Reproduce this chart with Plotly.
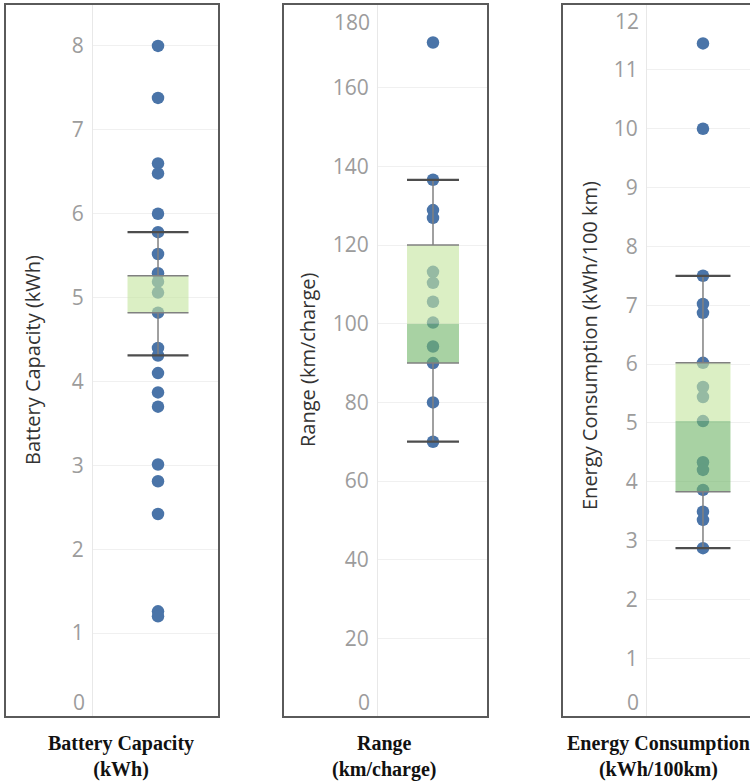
import plotly.graph_objects as go

# ---------------- data ----------------
panel_titles = ["Battery Capacity (kWh)", "Range (km/charge)", "Energy Consumption (kWh/100 km)"]
bottom_labels = ["Battery Capacity<br>(kWh)", "Range<br>(km/charge)", "Energy Consumption<br>(kWh/100km)"]

battery = [8.0, 7.38, 6.6, 6.48, 6.0, 5.78, 5.52, 5.29, 5.19, 5.06, 4.82, 4.4, 4.31,
           4.1, 3.87, 3.7, 3.01, 2.81, 2.42, 1.26, 1.2]
range_km = [171.5, 136.6, 128.9, 126.9, 113.2, 110.4, 105.6, 100.3, 94.2, 90.0, 80.0, 70.0]
energy = [11.45, 10.0, 7.5, 7.02, 6.87, 6.02, 5.61, 5.44, 5.03, 4.33, 4.2, 3.86, 3.49, 3.35, 2.87]

# box statistics (lower whisker, Q1, median, Q3, upper whisker)
battery_stats = [4.31, 4.82, 4.82, 5.26, 5.78]
range_stats = [70.0, 90.0, 100.0, 120.0, 136.6]
energy_stats = [2.87, 3.83, 5.03, 6.02, 7.5]

battery_ticks = [1, 2, 3, 4, 5, 6, 7, 8]
range_ticks = [20, 40, 60, 80, 100, 120, 140, 160]
energy_ticks = [1, 2, 3, 4, 5, 6, 7, 8, 9, 10, 11]
edge_ticks = [[0], [0, 180], [0, 12]]

# ---------------- styling / layout ----------------
W, H = 750, 782
def px(x):
    return x / W
def py(y):
    return 1 - y / H

BLUE = "#4a74a8"
LIGHT = "rgba(197,229,160,0.62)"
DARK = "rgba(114,183,106,0.62)"
HALF = 0.5

panels = [
    dict(vals=battery, stats=battery_stats, ticks=battery_ticks, yr=[0, 8.5],
         xd=[93, 219], xr=[-1.066, 1.0], frame=[5, 219], title_x=33, title_y=360, label_x=121),
    dict(vals=range_km, stats=range_stats, ticks=range_ticks, yr=[0, 181.3],
         xd=[378, 488], xr=[-1.058, 1.058], frame=[283, 488], title_x=308, title_y=360, label_x=384),
    dict(vals=energy, stats=energy_stats, ticks=energy_ticks, yr=[0, 12.12],
         xd=[647, 750], xr=[-1.018, 0.855], frame=[562, 760], title_x=590, title_y=346, label_x=658),
]
edge_shift = [[15], [15, -13], [15, -10]]

fig = go.Figure()
layout = dict(width=W, height=H, margin=dict(l=0, r=0, t=0, b=0),
              paper_bgcolor="white", plot_bgcolor="white", showlegend=False)
shapes, annotations = [], []
TICKFONT = dict(family="Open Sans", size=21, color="#9c9c9c")

for i, p in enumerate(panels):
    n = "" if i == 0 else str(i + 1)
    xa, ya = "x" + n, "y" + n
    lo, q1, med, q3, hi = p["stats"]
    # points
    fig.add_trace(go.Scatter(x=[0] * len(p["vals"]), y=p["vals"], mode="markers",
                             marker=dict(size=12.5, color=BLUE), xaxis=xa, yaxis=ya,
                             hoverinfo="y"))
    # lower box part (Q1 - median)
    fig.add_trace(go.Scatter(x=[-HALF, HALF, HALF, -HALF, -HALF], y=[q1, q1, med, med, q1],
                             mode="lines", fill="toself", fillcolor=DARK,
                             line=dict(width=0), xaxis=xa, yaxis=ya, hoverinfo="skip"))
    # upper box part (median - Q3)
    fig.add_trace(go.Scatter(x=[-HALF, HALF, HALF, -HALF, -HALF], y=[med, med, q3, q3, med],
                             mode="lines", fill="toself", fillcolor=LIGHT,
                             line=dict(width=0), xaxis=xa, yaxis=ya, hoverinfo="skip"))
    # whiskers + hinges
    fig.add_trace(go.Scatter(x=[0, 0, None, 0, 0, None, -HALF, HALF, None, -HALF, HALF],
                             y=[lo, q1, None, q3, hi, None, q1, q1, None, q3, q3],
                             mode="lines", line=dict(color="#808080", width=1.5),
                             xaxis=xa, yaxis=ya, hoverinfo="skip"))
    # whisker caps
    fig.add_trace(go.Scatter(x=[-HALF, HALF, None, -HALF, HALF],
                             y=[lo, lo, None, hi, hi],
                             mode="lines", line=dict(color="#4d4d4d", width=2.2),
                             xaxis=xa, yaxis=ya, hoverinfo="skip"))

    layout["xaxis" + n] = dict(domain=[px(p["xd"][0]), min(1, px(p["xd"][1]))], range=p["xr"],
                               showgrid=False, zeroline=False, showticklabels=False,
                               fixedrange=True, anchor=ya)
    layout["yaxis" + n] = dict(domain=[py(717), py(4)], range=p["yr"], tickvals=p["ticks"],
                               showgrid=True, gridcolor="#f0f0f0", gridwidth=1,
                               zeroline=False, showline=True, linecolor="#e8e8e8",
                               linewidth=1, ticks="", ticklabelstandoff=4,
                               tickfont=TICKFONT, anchor=xa, fixedrange=True)
    # edge tick labels kept inside the frame
    for v, s in zip(edge_ticks[i], edge_shift[i]):
        annotations.append(dict(xref="paper", yref=ya, x=px(p["xd"][0]), y=v, text=str(v),
                                xanchor="right", yanchor="middle", xshift=-6, yshift=s,
                                showarrow=False, font=TICKFONT))
    # frame
    shapes.append(dict(type="rect", xref="paper", yref="paper",
                       x0=px(p["frame"][0]), x1=px(p["frame"][1]), y0=py(717), y1=py(4),
                       line=dict(color="#5a5a5a", width=2), fillcolor="rgba(0,0,0,0)"))
    # axis title
    annotations.append(dict(xref="paper", yref="paper", x=px(p["title_x"]), y=py(p["title_y"]),
                            text=panel_titles[i], textangle=-90, showarrow=False,
                            xanchor="center", yanchor="middle",
                            font=dict(family="Open Sans", size=20, color="#333333")))
    # bottom label
    annotations.append(dict(xref="paper", yref="paper", x=px(p["label_x"]), y=py(756),
                            text="<b>" + bottom_labels[i] + "</b>", showarrow=False,
                            xanchor="center", yanchor="middle",
                            font=dict(family="Liberation Serif", size=20, color="#111111")))

layout["shapes"] = shapes
layout["annotations"] = annotations
fig.update_layout(**layout)
fig.write_html("out.html", config={"displayModeBar": False},
               post_script="document.body.style.margin='0px';")
